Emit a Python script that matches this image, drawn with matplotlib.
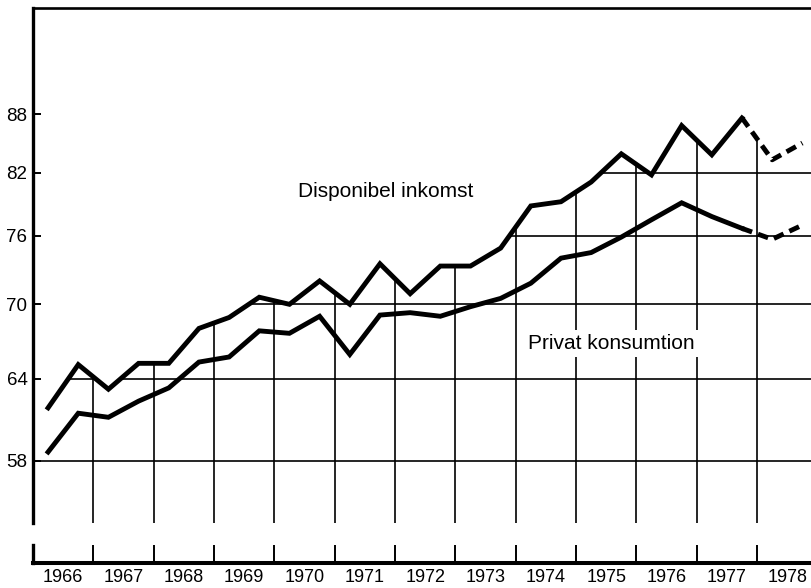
import numpy as np
import matplotlib
matplotlib.use("Agg")
import matplotlib.pyplot as plt
from matplotlib.patches import Polygon

plt.rcParams["font.family"] = ["Liberation Sans", "DejaVu Sans"]

# ── Data: half-year values (log scale) ───────────────────────────────────────

PERIODS = [
    "1966:1", "1966:2", "1967:1", "1967:2", "1968:1", "1968:2",
    "1969:1", "1969:2", "1970:1", "1970:2", "1971:1", "1971:2",
    "1972:1", "1972:2", "1973:1", "1973:2", "1974:1", "1974:2",
    "1975:1", "1975:2", "1976:1", "1976:2", "1977:1", "1977:2",
    "1978:1", "1978:2",
]
DISPONIBEL = [61.8, 65.1, 63.2, 65.2, 65.2, 68.0, 68.9, 70.6, 70.0, 72.0,
              70.0, 73.5, 70.9, 73.3, 73.3, 74.9, 78.8, 79.2, 81.1, 83.9,
              81.8, 86.8, 83.8, 87.6, 83.3, 85.0]
PRIVAT = [58.6, 61.4, 61.1, 62.3, 63.3, 65.3, 65.7, 67.8, 67.6, 69.0,
          65.9, 69.1, 69.3, 69.0, 69.8, 70.5, 71.8, 74.0, 74.5, 75.9,
          77.5, 79.1, 77.8, 76.7, 75.7, 77.0]
FIRST_FORECAST = "1977:2"   # dashed from this point on

YEAR_LABELS = [str(y) for y in range(1966, 1979)]
Y_TICKS = [58, 64, 70, 76, 82, 88]

# ── Layout ────────────────────────────────────────────────────────────────────

W, H = 812, 588
XLIM = (1966.0, 1978.91)
YLIM = (53.8, 100.0)


def period_x(p):
    year, half = p.split(":")
    return int(year) + (0.25 if half == "1" else 0.75)


x = np.array([period_x(p) for p in PERIODS])
disp = np.array(DISPONIBEL)
priv = np.array(PRIVAT)
k = PERIODS.index(FIRST_FORECAST)
year_starts = [int(s) for s in YEAR_LABELS]

fig = plt.figure(figsize=(W / 100, H / 100), dpi=100)
ax = fig.add_axes([33 / W, 1 - 523 / H, 1 - 33 / W, (523 - 8) / H])
ax.set_yscale("log")
ax.set_xlim(*XLIM)
ax.set_ylim(*YLIM)

for side in ("right", "bottom"):
    ax.spines[side].set_visible(False)
ax.spines["left"].set_linewidth(2.4)
ax.spines["top"].set_linewidth(1.9)

ax.set_yticks(Y_TICKS)
ax.set_yticklabels([str(v) for v in Y_TICKS])
ax.yaxis.set_minor_locator(matplotlib.ticker.NullLocator())
ax.tick_params(axis="y", direction="in", length=6, width=1.4,
               labelsize=13.5, pad=4)
ax.set_xticks([])

# grid only below the upper curve
clip_pts = ([(XLIM[0], YLIM[0]), (XLIM[0], disp[0])]
            + list(zip(x, disp))
            + [(XLIM[1], disp[-1]), (XLIM[1], YLIM[0])])
clip = Polygon(clip_pts, closed=True, transform=ax.transData,
               facecolor="none", edgecolor="none")

hl = ax.hlines(Y_TICKS, XLIM[0], XLIM[1], color="black", lw=1.2, zorder=1)
vl = ax.vlines(year_starts[1:], YLIM[0], YLIM[1], color="black", lw=1.2,
               zorder=1)
hl.set_clip_path(clip)
vl.set_clip_path(clip)

dash = (0, (2.2, 1.3))
for y in (disp, priv):
    ax.plot(x[:k + 1], y[:k + 1], color="black", lw=3.5,
            solid_joinstyle="miter", zorder=4)
    ax.plot(x[k:], y[k:], color="black", lw=3.5, ls=dash, zorder=4)

ax.text(1971.85, 80.2, "Disponibel inkomst", fontsize=15,
        ha="center", va="center", zorder=3)
ax.text(1975.59, 66.8, "Privat konsumtion", fontsize=15,
        ha="center", va="center", zorder=3,
        bbox=dict(boxstyle="square,pad=0.2", fc="white", ec="none"))

# ── Separate year scale below the chart ──────────────────────────────────────

ax2 = fig.add_axes([33 / W, 1 - 563 / H, 1 - 33 / W, 18 / H])
ax2.set_xlim(*XLIM)
ax2.set_ylim(0, 1)
for side in ("right", "top"):
    ax2.spines[side].set_visible(False)
ax2.spines["left"].set_linewidth(2.4)
ax2.spines["bottom"].set_linewidth(2.9)
ax2.vlines(year_starts[1:], 0, 1, color="black", lw=1.4)
ax2.set_yticks([])
ax2.set_xticks([s + 0.5 for s in year_starts])
ax2.set_xticklabels(YEAR_LABELS)
ax2.tick_params(axis="x", length=0, labelsize=13, pad=4)

fig.savefig("out.png", dpi=100)
